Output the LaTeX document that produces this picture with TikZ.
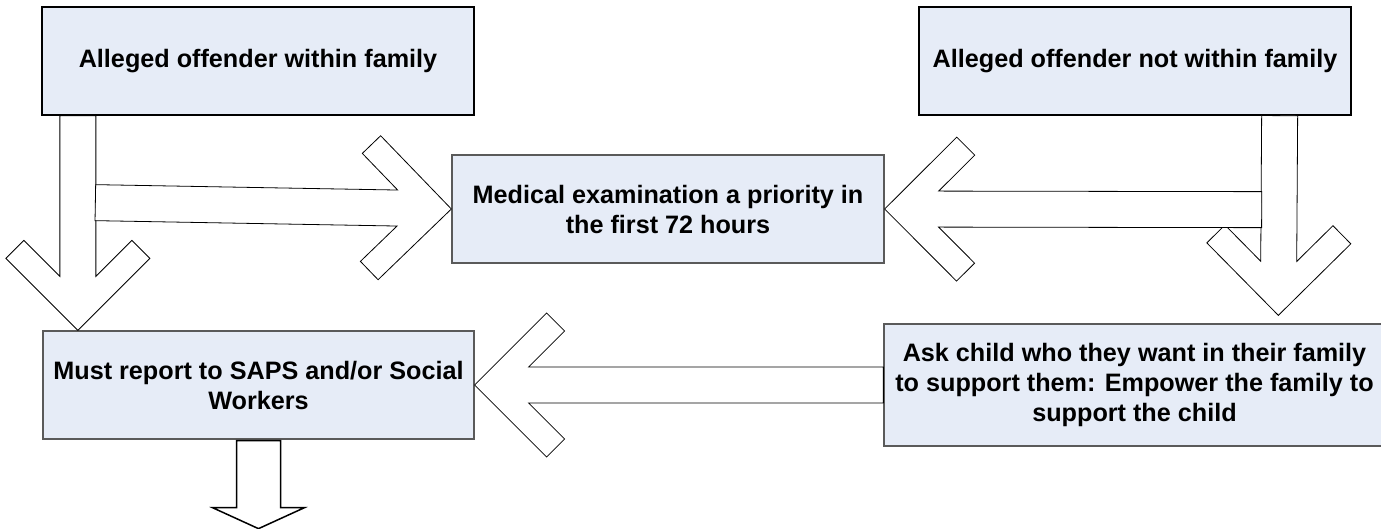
\documentclass[tikz,border=0pt]{standalone}
\usepackage{fontspec}
\setmainfont{Liberation Sans}
\usetikzlibrary{calc}
\definecolor{boxfill}{RGB}{230,236,247}
\definecolor{boxline}{RGB}{90,90,90}
\newcommand\blockarrow[3][]{%
  \coordinate (S) at (#2); \coordinate (T) at (#3);
  \coordinate (E) at ($(T)!54pt!(S)$);
  \coordinate (I) at ($(T)!90pt!(S)$);
  \coordinate (O) at ($(T)!72pt!(S)$);
  \draw[blk,#1] ($(S)!18pt!90:(T)$) -- ($(E)!18pt!90:(T)$) -- ($(I)!54pt!90:(T)$)
    -- ($(O)!72pt!90:(T)$) -- (T) -- ($(O)!72pt!-90:(T)$) -- ($(I)!54pt!-90:(T)$)
    -- ($(E)!18pt!-90:(T)$) -- ($(S)!18pt!-90:(T)$) -- cycle;
}
\begin{document}
\begin{tikzpicture}[x=1pt,y=-1pt,
  box/.style={draw=boxline, fill=boxfill, line width=1.3pt, minimum width=432pt,
    minimum height=108pt, inner sep=0pt, align=center,
    font=\fontsize{25.2}{30}\selectfont\bfseries},
  blk/.style={draw=black, fill=white, line width=0.8pt, line join=miter},
  blkthick/.style={draw=black, fill=white, line width=1.5pt, line join=miter}]
\useasboundingbox (0,0) rectangle (1381,529);
\node[box, draw=black] (b1) at (258,61) {Alleged offender within family};
\node[box, draw=black] (b2) at (1135,61) {Alleged offender not within family};
\node[box] (med) at (668,209) {Medical examination a priority in\\the first 72 hours};
\node[box, minimum width=431pt] (sap) at (258.5,385) {Must report to SAPS and/or Social\\Workers};
\node[box, minimum width=501pt, minimum height=122pt] (ask) at (1134.5,385)
  {Ask child who they want in their family\\to support them: Empower the family to\\support the child};
% left branch
\blockarrow{$(b1.south west)+(36.5,0)$}{$(sap.north west)+(35.5,0)$}
\blockarrow{$(b1.south west)+(54,87)$}{med.west}
% right branch
\blockarrow{$(b2.south east)+(-72,0)$}{$(ask.north west)+(395,-8)$}
\blockarrow{$(b2.south east)+(-90,94)$}{med.east}
% bottom
\blockarrow{ask.west}{sap.east}
\coordinate (B) at (sap.south);
\draw[blkthick] ($(B)+(-22,1)$) -- ($(B)+(-22,68)$) -- ($(B)+(-46,68)$) -- ($(B)+(0,89)$)
  -- ($(B)+(46,68)$) -- ($(B)+(22,68)$) -- ($(B)+(22,1)$) -- cycle;
\end{tikzpicture}
\end{document}
